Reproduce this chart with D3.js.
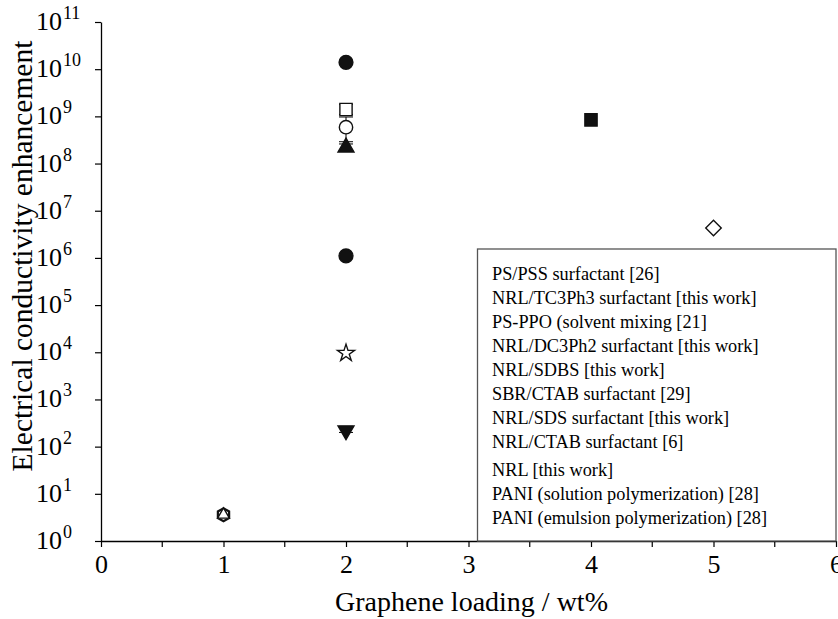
<!DOCTYPE html>
<html>
<head>
<meta charset="utf-8">
<script src="https://cdn.jsdelivr.net/npm/d3@7"></script>
<style>
  body { margin: 0; background: #fff; }
</style>
</head>
<body>
<div id="chart"></div>
<script>
// series, in legend order
var seriesNames = [
  "PS/PSS surfactant [26]",
  "NRL/TC3Ph3 surfactant [this work]",
  "PS-PPO (solvent mixing [21]",
  "NRL/DC3Ph2 surfactant [this work]",
  "NRL/SDBS [this work]",
  "SBR/CTAB surfactant [29]",
  "NRL/SDS surfactant [this work]",
  "NRL/CTAB surfactant [6]",
  "NRL [this work]",
  "PANI (solution polymerization) [28]",
  "PANI (emulsion polymerization) [28]"
];
var loadings     = [2, 2, 4, 2, 2, 5, 2, 2, 1, 2, 1];
var enhancements = [1.4e10, 1.4e9, 8.4e8, 5.9e8, 2.2e8, 4.3e6, 1.1e6, 9.6e3, 3.6, 2.2e2, 3.6];
var errLow       = [null, 1.1e9, null, 2.9e8, 1.8e8, null, null, null, null, 2.0e2, null];
var errHigh      = [null, 1.8e9, null, 9.7e8, 2.6e8, null, null, null, null, 2.7e2, null];

var xTicks = [0, 1, 2, 3, 4, 5, 6];
var xMinorTicks = [0.5, 1.5, 2.5, 3.5, 4.5, 5.5];
var yExponents = [0, 1, 2, 3, 4, 5, 6, 7, 8, 9, 10, 11];

var serif = "Liberation Serif";

// marker look per series
var hexagon = {
  draw: function(ctx, size) {
    var r = Math.sqrt(size / 2.6);
    for (var i = 0; i < 6; i++) {
      var a = Math.PI / 6 + i * Math.PI / 3;
      if (i === 0) ctx.moveTo(r * Math.cos(a), r * Math.sin(a));
      else ctx.lineTo(r * Math.cos(a), r * Math.sin(a));
    }
    ctx.closePath();
  }
};
var markers = [
  {type: d3.symbolCircle, size: 150, fill: true},
  {type: d3.symbolSquare, size: 150, fill: false},
  {type: d3.symbolSquare, size: 150, fill: true},
  {type: d3.symbolCircle, size: 140, fill: false},
  {type: d3.symbolTriangle, size: 110, fill: true},
  {type: d3.symbolSquare, size: 120, fill: false, rotate: 45},
  {type: d3.symbolCircle, size: 150, fill: true},
  {type: d3.symbolStar, size: 90, fill: false},
  {type: hexagon, size: 110, fill: false, width: 2.2},
  {type: d3.symbolTriangle, size: 110, fill: true, rotate: 180},
  {type: d3.symbolTriangle, size: 60, fill: false}
];

var width = 838, height = 619;
var margin = {top: 22, right: 2, bottom: 78, left: 101};

var svg = d3.select("#chart").append("svg")
    .attr("width", width)
    .attr("height", height);

var x = d3.scaleLinear()
    .domain([0, 6])
    .range([margin.left, width - margin.right]);

var y = d3.scaleLog()
    .domain([1, 1e11])
    .range([height - margin.bottom, margin.top]);

// y axis
var yAxis = svg.append("g")
    .attr("transform", "translate(" + margin.left + ",0)")
    .call(d3.axisLeft(y)
      .tickValues(yExponents.map(function(e) { return Math.pow(10, e); }))
      .tickSize(6)
      .tickSizeOuter(0)
      .tickFormat(""));
yAxis.select(".domain").attr("stroke", "#000").attr("stroke-width", 1.3);
yAxis.selectAll(".tick line").attr("stroke", "#000").attr("stroke-width", 1.2);

var yLabels = svg.append("g").selectAll("text")
    .data(yExponents)
    .enter().append("text")
    .attr("x", 36)
    .attr("y", function(e) { return y(Math.pow(10, e)) + 8; })
    .style("font-family", serif)
    .attr("font-size", 26)
    .attr("fill", "#000");
yLabels.append("tspan").text("10");
yLabels.append("tspan")
    .attr("dx", 1)
    .attr("dy", -11)
    .attr("font-size", 18)
    .text(function(e) { return e; });

// x axis
var xAxis = svg.append("g")
    .attr("transform", "translate(0," + y(1) + ")")
    .call(d3.axisBottom(x)
      .tickValues(xTicks)
      .tickSize(6)
      .tickSizeOuter(0)
      .tickPadding(8)
      .tickFormat(d3.format("d")));
xAxis.select(".domain").attr("stroke", "#000").attr("stroke-width", 1.3);
xAxis.selectAll(".tick line").attr("stroke", "#000").attr("stroke-width", 1.2);
xAxis.selectAll(".tick text")
    .style("font-family", serif)
    .attr("font-size", 26)
    .attr("fill", "#000");

svg.append("g").selectAll("line")
    .data(xMinorTicks)
    .enter().append("line")
    .attr("x1", function(d) { return x(d); })
    .attr("x2", function(d) { return x(d); })
    .attr("y1", y(1))
    .attr("y2", y(1) + 6)
    .attr("stroke", "#000")
    .attr("stroke-width", 1.2);

// axis titles
svg.append("text")
    .attr("x", (x(0) + x(6)) / 2 + 3)
    .attr("y", 611)
    .attr("text-anchor", "middle")
    .style("font-family", serif)
    .attr("font-size", 28)
    .text("Graphene loading / wt%");

svg.append("text")
    .attr("transform", "translate(32,256) rotate(-90)")
    .attr("text-anchor", "middle")
    .style("font-family", serif)
    .attr("font-size", 29.5)
    .text("Electrical conductivity enhancement");

// legend box (symbols are not shown in the original)
var legend = svg.append("g");
legend.append("rect")
    .attr("x", 477.5)
    .attr("y", 249)
    .attr("width", x(6) - 477.5)
    .attr("height", y(1) - 249)
    .attr("fill", "#fff")
    .attr("stroke", "#555")
    .attr("stroke-width", 1.3);
legend.selectAll("text")
    .data(seriesNames)
    .enter().append("text")
    .attr("x", 492)
    .attr("y", function(d, i) { return 280 + i * 24 + (i >= 8 ? 4 : 0); })
    .style("font-family", serif)
    .attr("font-size", 18.3)
    .text(function(d) { return d; });

// error bars
var idx = d3.range(seriesNames.length);
var bars = svg.append("g").selectAll("g")
    .data(idx.filter(function(i) { return errLow[i] !== null; }))
    .enter().append("g")
    .attr("stroke", "#000")
    .attr("stroke-width", 1);
bars.append("line")
    .attr("x1", function(i) { return x(loadings[i]); })
    .attr("x2", function(i) { return x(loadings[i]); })
    .attr("y1", function(i) { return y(errLow[i]); })
    .attr("y2", function(i) { return y(errHigh[i]); });
[errLow, errHigh].forEach(function(arr) {
  bars.append("line")
      .attr("x1", function(i) { return x(loadings[i]) - 7; })
      .attr("x2", function(i) { return x(loadings[i]) + 7; })
      .attr("y1", function(i) { return y(arr[i]); })
      .attr("y2", function(i) { return y(arr[i]); });
});

// points
svg.append("g").selectAll("path")
    .data(idx)
    .enter().append("path")
    .attr("transform", function(i) {
      return "translate(" + x(loadings[i]) + "," + y(enhancements[i]) + ")" +
        (markers[i].rotate ? " rotate(" + markers[i].rotate + ")" : "");
    })
    .attr("d", function(i) { return d3.symbol().type(markers[i].type).size(markers[i].size)(); })
    .attr("fill", function(i) { return markers[i].fill ? "#111" : "#fff"; })
    .attr("stroke", "#111")
    .attr("stroke-width", function(i) { return markers[i].width || 1.4; });
</script>
</body>
</html>
